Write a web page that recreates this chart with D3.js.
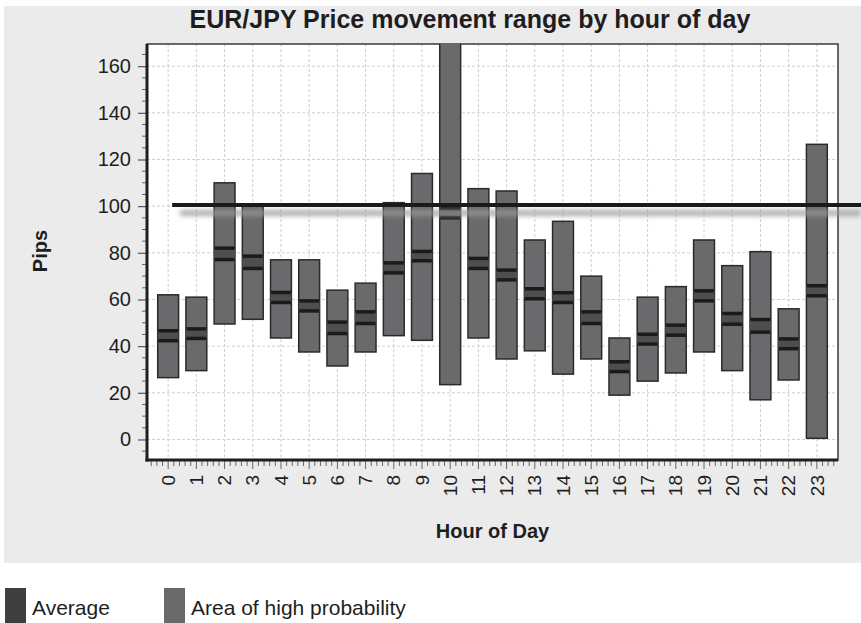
<!DOCTYPE html>
<html>
<head>
<meta charset="utf-8">
<script src="https://cdn.jsdelivr.net/npm/d3@7"></script>
<style>
    body { margin: 0; background: #fff; }
    text { font-family: "Liberation Sans", Arial, sans-serif; fill: #1e1e1e; }
</style>
</head>
<body>
<svg id="chart"></svg>
<script>
// hour of day and the ranges (pips)
const hours = ["0", "1", "2", "3", "4", "5", "6", "7", "8", "9", "10", "11",
    "12", "13", "14", "15", "16", "17", "18", "19", "20", "21", "22", "23"];
const rangeHigh = [62, 61, 110, 100, 77, 77, 64, 67, 101.5, 114, 175, 107.5,
    106.5, 85.5, 93.5, 70, 43.5, 61, 65.5, 85.5, 74.5, 80.5, 56, 126.5];
const rangeLow = [26.5, 29.5, 49.5, 51.5, 43.5, 37.5, 31.5, 37.5, 44.5, 42.5, 23.5, 43.5,
    34.5, 38, 28, 34.5, 19, 25, 28.5, 37.5, 29.5, 17, 25.5, 0.5];
const avgHigh = [46.6, 47.4, 82, 78.6, 63, 59.4, 50.3, 54.7, 75.7, 80.6, 99, 77.6,
    72.6, 64.6, 62.9, 54.7, 33.3, 45.1, 49, 63.7, 54, 51.4, 43.1, 65.9];
const avgLow = [42.3, 43.3, 77.1, 73.3, 58.7, 55.1, 45.4, 49.7, 71.4, 76.6, 95, 73.3,
    68.4, 60.3, 58.7, 49.7, 29.1, 40.9, 44.7, 59.4, 49.4, 46, 38.9, 61.6];
const refLevel = 100.5;
const yTicks = [0, 20, 40, 60, 80, 100, 120, 140, 160];
const legendItems = ["Average", "Area of high probability"];

class RangeChart {
    margin = { top: 44, right: 23, bottom: 163, left: 147 }

    constructor(svg, width = 861, height = 623) {
        this.svg = svg;
        this.width = width;
        this.height = height;
        this.innerW = width - this.margin.left - this.margin.right;
        this.innerH = height - this.margin.top - this.margin.bottom;
    }

    initialize() {
        this.svg = d3.select(this.svg)
            .attr("width", this.width)
            .attr("height", this.height);

        const defs = this.svg.append("defs");
        defs.append("filter").attr("id", "blur")
            .attr("x", "-5%").attr("y", "-150%").attr("width", "110%").attr("height", "400%")
            .append("feGaussianBlur").attr("stdDeviation", 2.5);
        defs.append("clipPath").attr("id", "plotClip")
            .append("rect")
            .attr("width", this.innerW)
            .attr("height", this.innerH);

        // grey panel behind the chart
        this.svg.append("rect")
            .attr("x", 4).attr("y", 6)
            .attr("width", this.width - 4).attr("height", 557)
            .attr("fill", "#ebebeb");

        this.container = this.svg.append("g")
            .attr("transform", `translate(${this.margin.left}, ${this.margin.top})`);

        this.xScale = d3.scalePoint().padding(0.75);
        this.yScale = d3.scaleLinear();
    }

    update() {
        const W = this.innerW, H = this.innerH;
        this.xScale.domain(hours).range([0, W]);
        this.yScale.domain([-8.8, 169.5]).range([H, 0]);
        const x = this.xScale, y = this.yScale;
        const step = x.step();
        const barW = step * 0.74;
        const xLin = d3.scaleLinear().domain([0, hours.length - 1]).range([x(hours[0]), x(hours[hours.length - 1])]);

        const data = hours.map((h, i) => ({
            hour: h, low: rangeLow[i], high: rangeHigh[i], aLo: avgLow[i], aHi: avgHigh[i]
        }));

        this.container.append("rect")
            .attr("width", W).attr("height", H)
            .attr("fill", "#fff");

        // dashed grid
        const grid = this.container.append("g")
            .attr("stroke", "#cfcfcf")
            .attr("stroke-dasharray", "3,2")
            .attr("stroke-width", 1);
        grid.selectAll("line.h")
            .data(yTicks)
            .join("line")
            .attr("class", "h")
            .attr("x1", 0).attr("x2", W)
            .attr("y1", d => y(d)).attr("y2", d => y(d));
        grid.selectAll("line.v")
            .data(hours)
            .join("line")
            .attr("class", "v")
            .attr("y1", 0).attr("y2", H)
            .attr("x1", d => x(d)).attr("x2", d => x(d));

        this.container.append("rect")
            .attr("width", W).attr("height", H)
            .attr("fill", "none")
            .attr("stroke", "#3a3a3a")
            .attr("stroke-width", 1.5);

        // bars
        const plot = this.container.append("g").attr("clip-path", "url(#plotClip)");
        const bars = plot.selectAll("g.bar")
            .data(data)
            .join("g")
            .attr("class", "bar")
            .attr("transform", d => `translate(${x(d.hour) - barW / 2}, 0)`);

        bars.append("rect")
            .attr("y", d => y(d.high))
            .attr("height", d => y(d.low) - y(d.high))
            .attr("width", barW)
            .attr("fill", "#6a6a6c")
            .attr("stroke", "#2a2a2a")
            .attr("stroke-width", 1.5);

        bars.append("rect")
            .attr("y", d => y(d.aHi))
            .attr("height", d => y(d.aLo) - y(d.aHi))
            .attr("width", barW)
            .attr("fill", "#4e4e4f");

        bars.selectAll("line")
            .data(d => [d.aHi, d.aLo])
            .join("line")
            .attr("x1", 0.5).attr("x2", barW - 0.5)
            .attr("y1", v => y(v)).attr("y2", v => y(v))
            .attr("stroke", "#1b1b1b")
            .attr("stroke-width", 3.5);

        // reference line at 100 with its soft shadow
        const refX0 = x(hours[0]) + 4;
        const refX1 = this.width - this.margin.left;
        this.container.append("rect")
            .attr("x", refX0 + 8).attr("width", refX1 - refX0 - 8)
            .attr("y", y(refLevel) + 5).attr("height", 6)
            .attr("fill", "#9a9a9a")
            .attr("opacity", 0.8)
            .attr("filter", "url(#blur)");
        this.container.append("line")
            .attr("x1", refX0).attr("x2", refX1)
            .attr("y1", y(refLevel)).attr("y2", y(refLevel))
            .attr("stroke", "#1a1a1a")
            .attr("stroke-width", 4);

        // y axis
        const yAxis = this.container.append("g")
            .call(d3.axisLeft(y).tickValues(yTicks).tickSize(9).tickPadding(7).tickSizeOuter(0));
        yAxis.select(".domain").remove();
        yAxis.selectAll(".tick line").attr("stroke", "#555").attr("stroke-width", 1.2);
        yAxis.selectAll(".tick text")
            .style("font-size", "20px")
            .style("font-family", "Liberation Sans, Arial, sans-serif")
            .attr("fill", "#1e1e1e");
        this.container.append("g")
            .selectAll("line")
            .data(d3.range(-5, 170, 5).filter(v => v % 20 !== 0))
            .join("line")
            .attr("x1", -5).attr("x2", 0)
            .attr("y1", d => y(d)).attr("y2", d => y(d))
            .attr("stroke", "#666").attr("stroke-width", 1);

        // x axis with fine ticks
        const xMinor = d3.range(-3, 5 * (hours.length - 1) + 4).map(k => k / 5);
        this.container.append("g")
            .attr("transform", `translate(0, ${H})`)
            .selectAll("line")
            .data(xMinor)
            .join("line")
            .attr("x1", d => xLin(d)).attr("x2", d => xLin(d))
            .attr("y1", 0)
            .attr("y2", d => Math.abs(d - Math.round(d)) < 1e-6 ? 9 : 6)
            .attr("stroke", "#666").attr("stroke-width", 1);

        this.container.append("g")
            .selectAll("text")
            .data(hours)
            .join("text")
            .attr("transform", d => `translate(${x(d)}, ${H + 15}) rotate(-90)`)
            .attr("dy", "0.35em")
            .attr("text-anchor", "end")
            .style("font-size", "19px")
            .text(d => d);

        // heavy left and bottom axis lines
        this.container.append("line")
            .attr("x1", 0).attr("x2", 0).attr("y1", 0).attr("y2", H + 1.5)
            .attr("stroke", "#1e1e1e").attr("stroke-width", 3);
        this.container.append("line")
            .attr("x1", -1.5).attr("x2", W).attr("y1", H).attr("y2", H)
            .attr("stroke", "#1e1e1e").attr("stroke-width", 3);

        // titles
        this.svg.append("text")
            .attr("x", 470).attr("y", 28)
            .attr("text-anchor", "middle")
            .style("font-size", "25px").style("font-weight", "bold")
            .text("EUR/JPY Price movement range by hour of day");

        this.svg.append("text")
            .attr("transform", `translate(47, 251) rotate(-90)`)
            .attr("text-anchor", "middle")
            .style("font-size", "20px").style("font-weight", "bold")
            .text("Pips");

        this.svg.append("text")
            .attr("x", this.margin.left + W / 2).attr("y", 538)
            .attr("text-anchor", "middle")
            .style("font-size", "20px").style("font-weight", "bold")
            .text("Hour of Day");

        // legend
        const colors = ["#3f3f40", "#69696b"];
        const legend = this.svg.append("g")
            .selectAll("g")
            .data(legendItems)
            .join("g")
            .attr("transform", (d, i) => `translate(${i === 0 ? 5 : 164}, 588)`);
        legend.append("rect")
            .attr("width", 21).attr("height", 40)
            .attr("fill", (d, i) => colors[i]);
        legend.append("text")
            .attr("x", 27).attr("y", 27)
            .style("font-size", "21px")
            .text(d => d);
    }
}

const chart = new RangeChart(document.getElementById("chart"));
chart.initialize();
chart.update();
</script>
</body>
</html>
